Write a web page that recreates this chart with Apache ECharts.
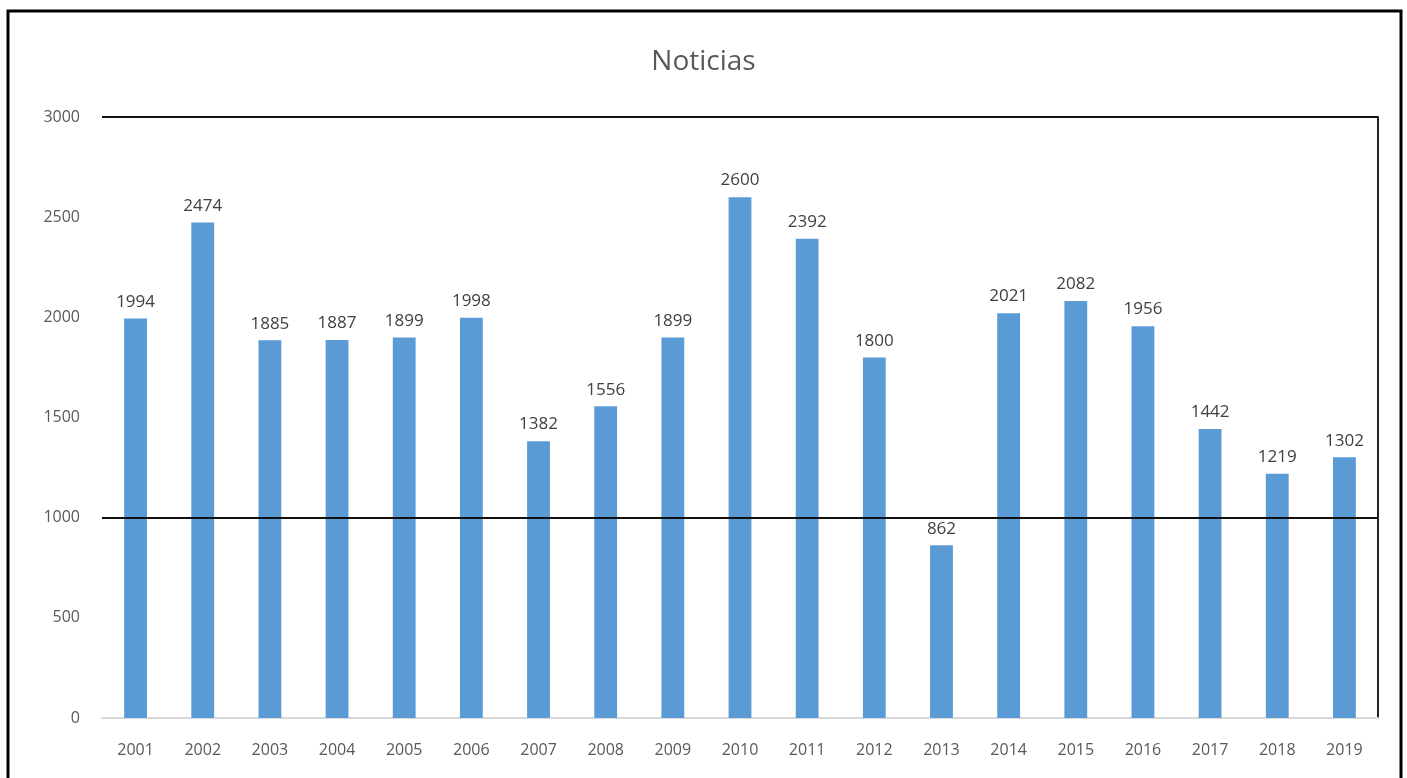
<!DOCTYPE html>
<html><head><meta charset="utf-8">
<script src="https://cdn.jsdelivr.net/npm/echarts@6/dist/echarts.min.js"></script>
<style>html,body{margin:0;padding:0;background:#fff}#c{width:1407px;height:778px}</style>
</head><body><div id="c"></div>
<script>
const years = ['2001','2002','2003','2004','2005','2006','2007','2008','2009','2010','2011','2012','2013','2014','2015','2016','2017','2018','2019'];
const noticias = [1994,2474,1885,1887,1899,1998,1382,1556,1899,2600,2392,1800,862,2021,2082,1956,1442,1219,1302];
const chart = echarts.init(document.getElementById('c'));
chart.setOption({
  animation:false,
  graphic:[{type:'rect',shape:{x:8,y:11,width:1393,height:820},style:{fill:'none',stroke:'#000',lineWidth:3},z:-1}],
  title:{text:'Noticias',left:'center',top:43,textStyle:{fontFamily:'Open Sans',fontSize:28,fontWeight:'normal',color:'#595959'}},
  grid:{left:102,right:29,top:117,bottom:60},
  xAxis:{type:'category',data:years,
    axisLine:{lineStyle:{color:'#d9d9d9',width:2}},axisTick:{show:false},
    axisLabel:{color:'#595959',fontFamily:'Open Sans',fontSize:16,margin:24}},
  yAxis:[{type:'value',min:0,max:3000,interval:500,
    axisLine:{show:false},axisTick:{show:false},splitLine:{show:false},
    axisLabel:{color:'#595959',fontFamily:'Open Sans',fontSize:16,margin:22,formatter:function(v){return String(v);}}},
    {type:'value',min:0,max:3000,interval:500,position:'right',
    axisLine:{show:true,lineStyle:{color:'#222',width:2}},axisTick:{show:false},splitLine:{show:false},axisLabel:{show:false}}],
  series:[{type:'bar',data:noticias,barWidth:'34%',itemStyle:{color:'#5b9bd5'},
    label:{show:true,position:'top',distance:8,color:'#404040',fontFamily:'Open Sans',fontSize:17},
    markLine:{silent:true,symbol:'none',label:{show:false},lineStyle:{color:'#111',width:2,type:'solid'},
      data:[{yAxis:1000},{yAxis:3000}]}}]
});
</script></body></html>
